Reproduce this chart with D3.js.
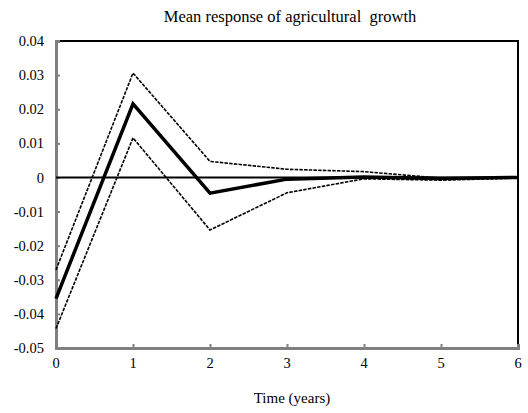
<!DOCTYPE html>
<html>
<head>
<meta charset="utf-8">
<script src="https://cdn.jsdelivr.net/npm/d3@7"></script>
<style>
  html, body { margin: 0; padding: 0; background: #fff; }
  svg { display: block; }
</style>
</head>
<body>
<svg id="chart" width="528" height="413"></svg>
<script>
// Impulse response of agricultural growth with confidence band
const years = [0, 1, 2, 3, 4, 5, 6];
const meanResponse = [-0.0355, 0.0216, -0.0046, -0.0005, 0.0001, -0.0003, 0.0];
const upperBand = [-0.0271, 0.0306, 0.0047, 0.0024, 0.0017, -0.0002, 0.0001];
const lowerBand = [-0.0443, 0.0116, -0.0154, -0.0045, -0.0004, -0.0008, -0.0002];
const yTicks = [0.04, 0.03, 0.02, 0.01, 0, -0.01, -0.02, -0.03, -0.04, -0.05];
const yTickLabels = ["0.04", "0.03", "0.02", "0.01", "0", "-0.01", "-0.02", "-0.03", "-0.04", "-0.05"];
const xTicks = [0, 1, 2, 3, 4, 5, 6];
const xTickLabels = ["0", "1", "2", "3", "4", "5", "6"];

const serif = "'Liberation Serif', 'Times New Roman', serif";
const svg = d3.select("#chart");
const plotLeft = 56, plotRight = 518, plotTop = 41, plotBottom = 348;

const x = d3.scaleLinear().domain([0, 6]).range([plotLeft, plotRight]);
const y = d3.scaleLinear().domain([-0.05, 0.04]).range([plotBottom, plotTop]);

// Title
svg.append("text")
  .attr("x", 290).attr("y", 22)
  .attr("text-anchor", "middle")
  .style("font-family", serif)
  .style("font-size", "16.5px")
  .style("white-space", "pre")
  .text("Mean response of agricultural  growth");

// Top and right frame
svg.append("path")
  .attr("d", `M${plotLeft + 1},${plotTop}H${plotRight}V${plotBottom}`)
  .attr("fill", "none").attr("stroke", "#000").attr("stroke-width", 2);

// Left axis (gray, ticks inward); labels drawn separately below
const gy = svg.append("g").attr("transform", `translate(${plotLeft},0)`)
  .call(d3.axisLeft(y).tickValues(yTicks).tickSize(-4).tickFormat(""));
gy.select(".domain").attr("stroke", "#808080").attr("stroke-width", 3);
gy.selectAll(".tick line").attr("stroke", "#808080").attr("stroke-width", 2);

svg.append("g").selectAll("text")
  .data(yTicks)
  .join("text")
  .attr("x", plotLeft - 12)
  .attr("y", d => y(d))
  .attr("dy", "0.35em")
  .attr("text-anchor", "end")
  .style("font-family", serif)
  .style("font-size", "14.5px")
  .text((d, i) => yTickLabels[i]);

// Bottom axis (gray, ticks inward)
const gx = svg.append("g").attr("transform", `translate(0,${plotBottom})`)
  .call(d3.axisBottom(x).tickValues(xTicks).tickSize(-4).tickFormat(""));
gx.select(".domain").attr("stroke", "#808080").attr("stroke-width", 3);
gx.selectAll(".tick line").attr("stroke", "#808080").attr("stroke-width", 2);

svg.append("g").selectAll("text")
  .data(xTicks)
  .join("text")
  .attr("x", d => x(d))
  .attr("y", plotBottom + 20)
  .attr("text-anchor", "middle")
  .style("font-family", serif)
  .style("font-size", "14.5px")
  .text((d, i) => xTickLabels[i]);

// Axis title
svg.append("text")
  .attr("x", 292).attr("y", 403)
  .attr("text-anchor", "middle")
  .style("font-family", serif)
  .style("font-size", "15px")
  .text("Time (years)");

// Zero line
svg.append("line")
  .attr("x1", plotLeft).attr("x2", plotRight)
  .attr("y1", y(0)).attr("y2", y(0))
  .attr("stroke", "#000").attr("stroke-width", 2);

const line = d3.line().x((d, i) => x(years[i])).y(d => y(d));

// Confidence bands
[upperBand, lowerBand].forEach(series => {
  svg.append("path")
    .attr("d", line(series))
    .attr("fill", "none")
    .attr("stroke", "#000")
    .attr("stroke-width", 1.6)
    .attr("stroke-dasharray", "3.5,1.2");
});

// Mean response
svg.append("path")
  .attr("d", line(meanResponse))
  .attr("fill", "none")
  .attr("stroke", "#000")
  .attr("stroke-width", 3.5)
  .attr("stroke-linejoin", "miter");
</script>
</body>
</html>
